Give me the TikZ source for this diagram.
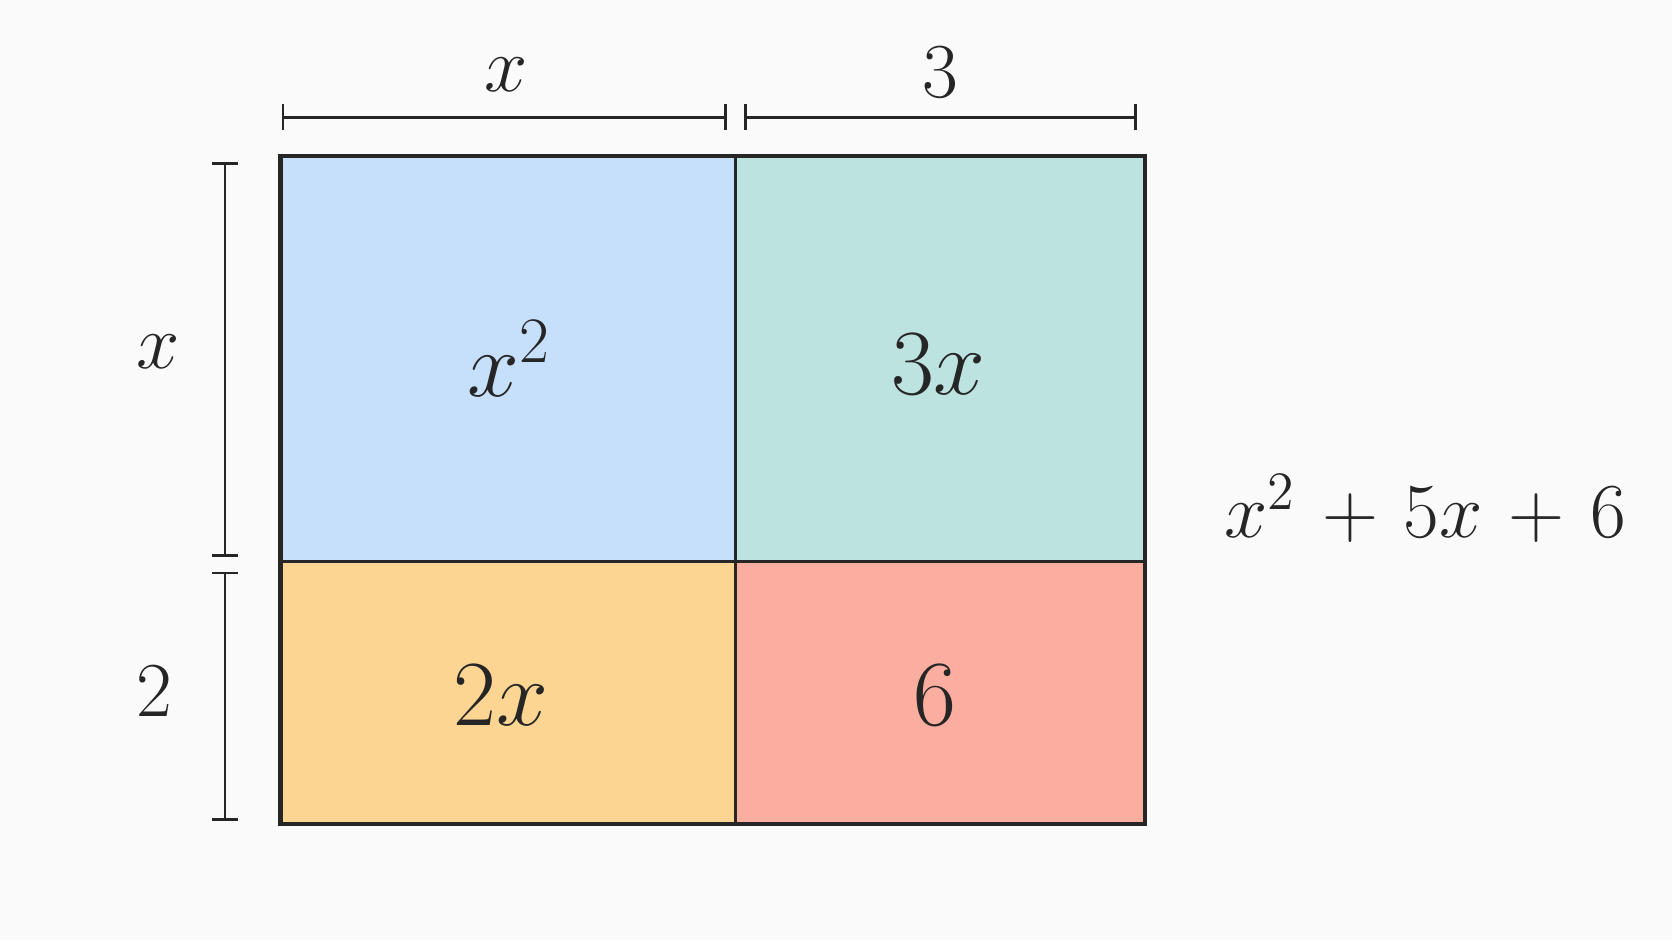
\documentclass[tikz,border=0pt]{standalone}
\usepackage{amsmath}
\usepackage{amssymb}

\definecolor{cellblue}{HTML}{C6DFFA}
\definecolor{cellteal}{HTML}{BDE3E1}
\definecolor{cellorange}{HTML}{FCD592}
\definecolor{cellred}{HTML}{FBAEA0}
\definecolor{ink}{HTML}{262626}

\tikzset{
  dimline/.style={|-|, ink, line width=0.75pt, >=to},
  lbl/.style={ink, font=\fontsize{22}{26}\selectfont},
  celllbl/.style={ink, font=\fontsize{23}{27}\selectfont},
  sumlbl/.style={ink, font=\fontsize{20}{24}\selectfont}
}

\begin{document}
\begin{tikzpicture}[x=0.01cm,y=-0.01cm]
            \useasboundingbox[fill=white!98!black] (0,0) rectangle (1568,882);

            % cells
            \fill[cellblue] (263,146) rectangle (690,527);
            \fill[cellteal] (690,146) rectangle (1074,527);
            \fill[cellorange] (263,527) rectangle (690,773);
            \fill[cellred] (690,527) rectangle (1074,773);

            \draw[ink,line width=0.8pt] (690,146) -- (690,773);
            \draw[ink,line width=0.8pt] (263,527) -- (1074,527);
            \draw[ink,line width=1.1pt] (263,146) rectangle (1074,773);

            \node[celllbl] (xsq) at (478,336) {$x^2$};
            \node[celllbl] (thx) at (880,342) {$3x$};
            \node[celllbl] (twx) at (470,652) {$2x$};
            \node[celllbl] (six) at (877,652) {$6$};

            % dimensions
            \draw[dimline] (264,110) -- (682,110);
            \draw[dimline] (698,110) -- (1066,110);
            \draw[dimline] (211,152) -- (211,522);
            \draw[dimline] (211,536) -- (211,770);

            \node[lbl] (topx) at (475,70) {$x$};
            \node[lbl] (topthree) at (882,68) {$3$};
            \node[lbl] (leftx) at (148,330) {$x$};
            \node[lbl] (lefttwo) at (145,648) {$2$};

            \node[sumlbl, anchor=west] (sum) at (1136,477)
              {$x^2 \mkern2mu+\mkern2mu 5x \mkern2mu+\mkern2mu 6$};
        \end{tikzpicture}
\end{document}
